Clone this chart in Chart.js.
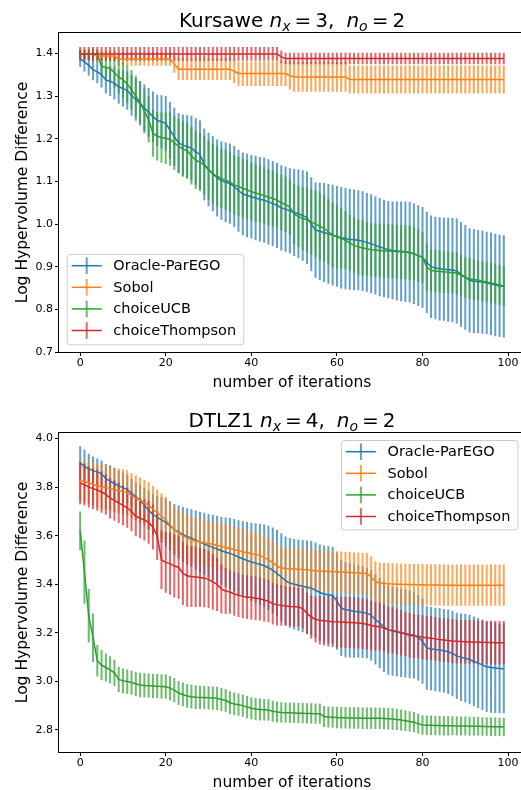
<!DOCTYPE html>
<html><head><meta charset="utf-8">
<script src="https://cdn.jsdelivr.net/npm/chart.js@4.4.1/dist/chart.umd.min.js"></script>
<style>
html,body{margin:0;padding:0;background:#fff;overflow:hidden;width:521px;height:790px;position:relative;}
.wrap{position:absolute;left:0;width:530px;height:395px;}
canvas{display:block;}
</style></head><body>
<div class="wrap" style="top:0"><canvas id="c1" width="530" height="395"></canvas></div>
<div class="wrap" style="top:395px"><canvas id="c2" width="530" height="395"></canvas></div>
<script>
const seriesNames = ['Oracle-ParEGO','Sobol','choiceUCB','choiceThompson'];
const iterations = [0,1,2,3,4,5,6,7,8,9,10,11,12,13,14,15,16,17,18,19,20,21,22,23,24,25,26,27,28,29,30,31,32,33,34,35,36,37,38,39,40,41,42,43,44,45,46,47,48,49,50,51,52,53,54,55,56,57,58,59,60,61,62,63,64,65,66,67,68,69,70,71,72,73,74,75,76,77,78,79,80,81,82,83,84,85,86,87,88,89,90,91,92,93,94,95,96,97,98,99];
const xTicks = [0,20,40,60,80,100];
const kurYTicks = [0.7,0.8,0.9,1.0,1.1,1.2,1.3,1.4];
const dtlzYTicks = [2.8,3.0,3.2,3.4,3.6,3.8,4.0];

// ---- Kursawe ----
const kurOracleMean = [1.388,1.380,1.372,1.362,1.357,1.350,1.338,1.335,1.330,1.322,
1.318,1.313,1.302,1.292,1.283,1.272,1.262,1.252,1.243,1.240,
1.236,1.220,1.205,1.190,1.185,1.182,1.178,1.170,1.163,1.140,
1.128,1.118,1.108,1.102,1.098,1.095,1.088,1.078,1.071,1.067,
1.064,1.061,1.058,1.056,1.052,1.048,1.044,1.038,1.035,1.031,
1.027,1.024,1.020,1.015,1.000,0.986,0.983,0.980,0.977,0.974,
0.971,0.968,0.966,0.964,0.963,0.962,0.960,0.957,0.954,0.950,
0.946,0.943,0.940,0.938,0.937,0.936,0.935,0.934,0.930,0.926,
0.922,0.910,0.900,0.897,0.895,0.894,0.893,0.892,0.890,0.882,
0.875,0.868,0.866,0.865,0.864,0.862,0.860,0.857,0.855,0.854];
const kurOracleErr = [0.020,0.022,0.024,0.025,0.027,0.030,0.032,0.035,0.038,0.040,
0.043,0.045,0.048,0.050,0.052,0.055,0.057,0.059,0.060,0.062,
0.064,0.066,0.068,0.070,0.072,0.074,0.076,0.078,0.080,0.084,
0.086,0.088,0.090,0.092,0.093,0.094,0.095,0.096,0.097,0.098,
0.098,0.099,0.099,0.100,0.100,0.100,0.100,0.100,0.100,0.100,
0.102,0.104,0.106,0.108,0.110,0.112,0.114,0.116,0.117,0.118,
0.118,0.119,0.119,0.118,0.118,0.117,0.117,0.116,0.116,0.115,
0.115,0.114,0.114,0.115,0.116,0.117,0.118,0.118,0.118,0.118,
0.118,0.119,0.120,0.120,0.121,0.121,0.122,0.122,0.123,0.123,
0.123,0.122,0.122,0.121,0.121,0.120,0.120,0.120,0.120,0.120];
const kurSobolMean = [1.398,1.398,1.398,1.398,1.394,1.394,1.394,1.394,1.394,1.387,
1.387,1.387,1.387,1.387,1.387,1.387,1.387,1.387,1.387,1.387,
1.387,1.387,1.375,1.363,1.363,1.363,1.363,1.363,1.363,1.363,
1.363,1.363,1.363,1.363,1.363,1.363,1.358,1.353,1.353,1.353,
1.353,1.353,1.353,1.353,1.353,1.353,1.353,1.353,1.353,1.348,
1.345,1.345,1.345,1.345,1.345,1.345,1.345,1.345,1.345,1.345,
1.345,1.345,1.345,1.339,1.339,1.339,1.339,1.339,1.339,1.339,
1.339,1.339,1.339,1.339,1.339,1.339,1.339,1.339,1.339,1.339,
1.339,1.339,1.339,1.339,1.339,1.339,1.339,1.339,1.339,1.339,
1.339,1.339,1.339,1.339,1.339,1.339,1.339,1.339,1.339,1.339];
const kurSobolErr = [0.012,0.012,0.012,0.012,0.012,0.012,0.012,0.012,0.012,0.016,
0.016,0.016,0.016,0.016,0.016,0.016,0.016,0.016,0.016,0.016,
0.016,0.016,0.020,0.025,0.025,0.025,0.025,0.025,0.025,0.025,
0.025,0.025,0.025,0.025,0.025,0.025,0.027,0.029,0.029,0.029,
0.029,0.029,0.029,0.029,0.029,0.029,0.029,0.029,0.029,0.033,
0.035,0.035,0.035,0.035,0.035,0.035,0.035,0.035,0.035,0.035,
0.035,0.035,0.035,0.033,0.033,0.033,0.033,0.033,0.033,0.033,
0.033,0.033,0.033,0.033,0.033,0.033,0.033,0.033,0.033,0.033,
0.033,0.033,0.033,0.033,0.033,0.033,0.033,0.033,0.033,0.033,
0.033,0.033,0.033,0.033,0.033,0.033,0.033,0.033,0.033,0.033];
const kurUCBMean = [1.398,1.398,1.398,1.398,1.398,1.370,1.367,1.365,1.355,1.345,
1.338,1.328,1.315,1.300,1.285,1.265,1.245,1.213,1.206,1.203,
1.201,1.199,1.190,1.183,1.176,1.172,1.160,1.150,1.145,1.138,
1.127,1.118,1.112,1.107,1.103,1.098,1.092,1.088,1.084,1.080,
1.076,1.073,1.070,1.067,1.063,1.060,1.056,1.050,1.046,1.040,
1.023,1.018,1.013,1.010,1.005,1.000,0.995,0.990,0.982,0.974,
0.970,0.966,0.962,0.956,0.950,0.946,0.944,0.942,0.940,0.939,
0.938,0.937,0.937,0.936,0.935,0.935,0.934,0.933,0.930,0.926,
0.922,0.900,0.891,0.890,0.889,0.888,0.887,0.886,0.885,0.880,
0.875,0.872,0.870,0.868,0.866,0.864,0.862,0.860,0.857,0.855];
const kurUCBErr = [0.010,0.010,0.010,0.010,0.012,0.020,0.025,0.030,0.035,0.040,
0.042,0.045,0.046,0.048,0.050,0.052,0.054,0.055,0.057,0.059,
0.060,0.062,0.063,0.064,0.065,0.066,0.067,0.068,0.068,0.069,
0.069,0.070,0.070,0.070,0.070,0.070,0.070,0.070,0.069,0.069,
0.068,0.068,0.067,0.067,0.066,0.066,0.065,0.065,0.065,0.065,
0.070,0.072,0.074,0.076,0.077,0.078,0.078,0.078,0.077,0.076,
0.075,0.070,0.068,0.066,0.065,0.064,0.064,0.063,0.063,0.063,
0.063,0.063,0.063,0.063,0.063,0.063,0.063,0.063,0.063,0.062,
0.060,0.055,0.050,0.050,0.050,0.049,0.049,0.049,0.049,0.048,
0.048,0.048,0.048,0.047,0.047,0.047,0.047,0.047,0.047,0.047];
const kurThompsonMean = [1.399,1.399,1.399,1.399,1.399,1.399,1.399,1.399,1.399,1.399,
1.399,1.399,1.399,1.399,1.399,1.399,1.399,1.399,1.399,1.399,
1.399,1.399,1.399,1.399,1.399,1.399,1.399,1.399,1.399,1.399,
1.399,1.399,1.399,1.399,1.399,1.399,1.399,1.399,1.399,1.399,
1.399,1.399,1.399,1.399,1.399,1.399,1.399,1.392,1.388,1.388,
1.388,1.388,1.388,1.388,1.388,1.388,1.388,1.388,1.388,1.388,
1.388,1.388,1.388,1.388,1.388,1.388,1.388,1.388,1.388,1.388,
1.388,1.388,1.388,1.388,1.388,1.388,1.388,1.388,1.388,1.388,
1.388,1.388,1.388,1.388,1.388,1.388,1.388,1.388,1.388,1.388,
1.388,1.388,1.388,1.388,1.388,1.388,1.388,1.388,1.388,1.388];
const kurThompsonErr = [0.016,0.016,0.016,0.016,0.016,0.016,0.016,0.016,0.016,0.016,
0.016,0.016,0.016,0.016,0.016,0.016,0.016,0.016,0.016,0.016,
0.016,0.016,0.016,0.016,0.016,0.016,0.016,0.016,0.016,0.016,
0.016,0.016,0.016,0.016,0.016,0.016,0.016,0.016,0.016,0.016,
0.016,0.016,0.016,0.016,0.016,0.016,0.016,0.015,0.0135,0.0135,
0.0135,0.0135,0.0135,0.0135,0.0135,0.0135,0.0135,0.0135,0.0135,0.0135,
0.0135,0.0135,0.0135,0.0135,0.0135,0.0135,0.0135,0.0135,0.0135,0.0135,
0.0135,0.0135,0.0135,0.0135,0.0135,0.0135,0.0135,0.0135,0.0135,0.0135,
0.0135,0.0135,0.0135,0.0135,0.0135,0.0135,0.0135,0.0135,0.0135,0.0135,
0.0135,0.0135,0.0135,0.0135,0.0135,0.0135,0.0135,0.0135,0.0135,0.0135];

// ---- DTLZ1 ----
const dtlzOracleMean = [3.900,3.885,3.875,3.868,3.862,3.856,3.835,3.825,3.815,3.805,
3.798,3.790,3.775,3.760,3.745,3.725,3.705,3.688,3.675,3.665,
3.655,3.640,3.625,3.615,3.605,3.597,3.590,3.582,3.574,3.566,
3.558,3.552,3.545,3.538,3.532,3.527,3.520,3.512,3.505,3.498,
3.492,3.487,3.482,3.476,3.468,3.458,3.445,3.430,3.415,3.405,
3.400,3.396,3.392,3.388,3.384,3.376,3.366,3.360,3.357,3.354,
3.330,3.302,3.295,3.292,3.289,3.287,3.284,3.281,3.272,3.255,
3.240,3.225,3.212,3.207,3.203,3.200,3.197,3.193,3.190,3.180,
3.165,3.137,3.134,3.131,3.129,3.126,3.122,3.115,3.105,3.099,
3.095,3.090,3.082,3.075,3.068,3.060,3.057,3.055,3.053,3.052];
const dtlzOracleErr = [0.068,0.070,0.063,0.058,0.056,0.054,0.060,0.065,0.065,0.065,
0.062,0.060,0.060,0.060,0.065,0.072,0.080,0.085,0.090,0.094,
0.098,0.102,0.106,0.110,0.113,0.116,0.119,0.122,0.125,0.128,
0.131,0.134,0.137,0.140,0.143,0.146,0.149,0.152,0.155,0.158,
0.161,0.164,0.167,0.170,0.173,0.176,0.178,0.180,0.182,0.184,
0.186,0.188,0.190,0.192,0.194,0.196,0.198,0.200,0.200,0.200,
0.200,0.198,0.196,0.194,0.192,0.190,0.188,0.186,0.186,0.186,
0.186,0.186,0.185,0.184,0.183,0.182,0.181,0.180,0.178,0.176,
0.175,0.172,0.172,0.172,0.172,0.172,0.174,0.176,0.178,0.180,
0.182,0.184,0.185,0.186,0.186,0.186,0.186,0.185,0.184,0.183];
const dtlzSobolMean = [3.828,3.822,3.818,3.812,3.806,3.802,3.798,3.794,3.788,3.785,
3.782,3.778,3.765,3.755,3.746,3.735,3.725,3.710,3.695,3.680,
3.665,3.645,3.625,3.612,3.600,3.590,3.582,3.578,3.574,3.570,
3.568,3.565,3.560,3.556,3.552,3.547,3.543,3.538,3.534,3.530,
3.526,3.523,3.520,3.510,3.500,3.490,3.475,3.468,3.465,3.464,
3.463,3.462,3.461,3.460,3.458,3.456,3.455,3.454,3.453,3.452,
3.451,3.450,3.449,3.448,3.447,3.446,3.445,3.444,3.430,3.410,
3.405,3.403,3.402,3.401,3.400,3.400,3.399,3.399,3.398,3.398,
3.398,3.397,3.397,3.397,3.397,3.396,3.396,3.396,3.396,3.396,
3.396,3.396,3.396,3.396,3.396,3.396,3.396,3.396,3.396,3.396];
const dtlzSobolErr = [0.085,0.086,0.087,0.088,0.089,0.090,0.090,0.091,0.091,0.092,
0.092,0.093,0.093,0.094,0.094,0.095,0.095,0.095,0.095,0.095,
0.095,0.096,0.096,0.096,0.096,0.096,0.096,0.096,0.096,0.096,
0.096,0.096,0.096,0.096,0.095,0.095,0.095,0.095,0.094,0.094,
0.093,0.093,0.092,0.091,0.090,0.089,0.088,0.087,0.086,0.085,
0.085,0.085,0.085,0.085,0.085,0.085,0.085,0.085,0.085,0.085,
0.085,0.085,0.085,0.085,0.085,0.085,0.085,0.085,0.085,0.085,
0.085,0.085,0.085,0.085,0.085,0.085,0.085,0.085,0.085,0.085,
0.085,0.085,0.085,0.085,0.085,0.085,0.085,0.085,0.085,0.085,
0.085,0.085,0.085,0.085,0.085,0.085,0.085,0.085,0.085,0.085];
const dtlzUCBMean = [3.620,3.450,3.270,3.180,3.085,3.067,3.057,3.047,3.035,3.008,
3.002,2.999,2.995,2.990,2.985,2.983,2.982,2.981,2.980,2.979,
2.978,2.972,2.964,2.952,2.946,2.940,2.937,2.935,2.934,2.933,
2.932,2.931,2.930,2.925,2.922,2.912,2.907,2.904,2.900,2.894,
2.889,2.886,2.884,2.883,2.882,2.877,2.874,2.872,2.871,2.871,
2.870,2.869,2.869,2.868,2.868,2.867,2.867,2.855,2.853,2.852,
2.851,2.850,2.850,2.849,2.849,2.849,2.848,2.848,2.848,2.848,
2.848,2.847,2.846,2.845,2.843,2.841,2.838,2.835,2.832,2.826,
2.820,2.819,2.819,2.818,2.818,2.817,2.817,2.817,2.816,2.816,
2.816,2.815,2.815,2.815,2.814,2.814,2.813,2.813,2.813,2.812];
const dtlzUCBErr = [0.080,0.130,0.110,0.100,0.065,0.062,0.058,0.056,0.054,0.052,
0.051,0.051,0.050,0.050,0.050,0.050,0.050,0.050,0.050,0.050,
0.050,0.050,0.050,0.049,0.049,0.049,0.049,0.049,0.048,0.048,
0.048,0.048,0.048,0.048,0.047,0.047,0.047,0.046,0.046,0.046,
0.045,0.045,0.045,0.044,0.044,0.043,0.043,0.042,0.042,0.042,
0.042,0.042,0.042,0.042,0.042,0.042,0.042,0.043,0.043,0.043,
0.044,0.044,0.044,0.044,0.044,0.044,0.044,0.044,0.044,0.044,
0.044,0.044,0.044,0.044,0.043,0.043,0.043,0.042,0.042,0.041,
0.040,0.040,0.040,0.040,0.040,0.040,0.040,0.039,0.039,0.039,
0.039,0.039,0.039,0.038,0.038,0.038,0.038,0.038,0.038,0.038];
const dtlzThompsonMean = [3.816,3.810,3.800,3.794,3.788,3.780,3.770,3.755,3.745,3.735,
3.725,3.715,3.700,3.680,3.672,3.665,3.655,3.635,3.600,3.500,
3.490,3.485,3.475,3.470,3.445,3.435,3.432,3.430,3.428,3.425,
3.420,3.410,3.400,3.380,3.372,3.368,3.360,3.355,3.350,3.347,
3.345,3.342,3.340,3.335,3.330,3.320,3.315,3.313,3.310,3.308,
3.307,3.306,3.300,3.280,3.265,3.255,3.252,3.250,3.248,3.246,
3.245,3.244,3.243,3.242,3.241,3.240,3.238,3.235,3.230,3.227,
3.225,3.220,3.212,3.210,3.205,3.200,3.195,3.190,3.187,3.185,
3.182,3.180,3.178,3.175,3.172,3.170,3.168,3.166,3.165,3.164,
3.163,3.162,3.162,3.161,3.161,3.160,3.160,3.159,3.159,3.159];
const dtlzThompsonErr = [0.086,0.086,0.085,0.085,0.085,0.085,0.084,0.084,0.083,0.083,
0.082,0.082,0.082,0.082,0.083,0.085,0.088,0.092,0.100,0.120,
0.125,0.128,0.130,0.130,0.130,0.128,0.126,0.124,0.122,0.120,
0.118,0.115,0.110,0.100,0.095,0.090,0.090,0.090,0.090,0.090,
0.090,0.090,0.089,0.088,0.087,0.086,0.085,0.084,0.082,0.080,
0.080,0.080,0.082,0.085,0.090,0.095,0.100,0.102,0.104,0.105,
0.105,0.105,0.105,0.105,0.105,0.105,0.104,0.103,0.102,0.100,
0.098,0.097,0.096,0.095,0.094,0.093,0.092,0.092,0.091,0.090,
0.090,0.090,0.090,0.090,0.090,0.090,0.090,0.090,0.090,0.090,
0.090,0.090,0.090,0.090,0.090,0.090,0.090,0.090,0.090,0.090];

const COLORS = ['#1f77b4','#ff7f0e','#2ca02c','#d62728'];
const FONT = "'DejaVu Sans', 'Liberation Sans', sans-serif";

function rgba(hex, a){
  const n = parseInt(hex.slice(1),16);
  return 'rgba('+((n>>16)&255)+','+((n>>8)&255)+','+(n&255)+','+a+')';
}

function drawRich(ctx, segs, cx, baseline){
  let total = 0;
  segs.forEach(s=>{ ctx.font = s.font; s.w = s.t ? ctx.measureText(s.t).width : 0; total += s.w + (s.gap||0); });
  let x = cx - total/2;
  ctx.textAlign = 'left'; ctx.textBaseline = 'alphabetic';
  segs.forEach(s=>{ ctx.font = s.font; if (s.t) ctx.fillText(s.t, x, baseline + (s.dy||0)); x += s.w + (s.gap||0); });
}

function titleSegs(name, nx){
  const R = '20px ' + FONT, I = 'italic 20px ' + FONT, S = 'italic 14px ' + FONT;
  return [
    {t: name + ' ', font: R},
    {t: 'n', font: I},
    {t: 'x', font: S, dy: 4, gap: 4},
    {t: '=', font: R, gap: 4},
    {t: String(nx) + ',', font: R, gap: 12},
    {t: 'n', font: I},
    {t: 'o', font: S, dy: 4, gap: 4},
    {t: '=', font: R, gap: 4},
    {t: '2', font: R}
  ];
}

function makeDecor(cfg){
  return {
    id: 'decor',
    beforeDatasetsDraw(chart){
      const ctx = chart.ctx, xs = chart.scales.x, ys = chart.scales.y;
      ctx.save();
      ctx.lineWidth = 2; ctx.lineCap = 'butt';
      cfg.series.forEach(s=>{
        ctx.strokeStyle = rgba(s.color, 0.7);
        ctx.beginPath();
        s.mean.forEach((m, i)=>{
          const px = xs.getPixelForValue(iterations[i]);
          ctx.moveTo(px, ys.getPixelForValue(m + s.err[i]));
          ctx.lineTo(px, ys.getPixelForValue(m - s.err[i]));
        });
        ctx.stroke();
      });
      ctx.restore();
    },
    afterDraw(chart){
      const ctx = chart.ctx, a = chart.chartArea;
      ctx.save();
      // frame
      ctx.strokeStyle = '#000'; ctx.lineWidth = 1;
      ctx.strokeRect(Math.round(a.left) - 0.5, Math.round(a.top) - 0.5, Math.round(a.right - a.left) + 1, Math.round(a.bottom - a.top) + 1);
      ctx.fillStyle = '#000';
      // title
      drawRich(ctx, titleSegs(cfg.name, cfg.nx), (a.left + a.right)/2, cfg.titleBase);
      // x label
      ctx.font = '15.5px ' + FONT; ctx.textAlign = 'center'; ctx.textBaseline = 'alphabetic';
      ctx.fillText('number of iterations', (a.left + a.right)/2, cfg.xlabelBase);
      // y label
      ctx.save();
      ctx.translate(cfg.ylabelX, (a.top + a.bottom)/2);
      ctx.rotate(-Math.PI/2);
      ctx.textAlign = 'center'; ctx.textBaseline = 'middle';
      ctx.fillText('Log Hypervolume Difference', 0, 0);
      ctx.restore();
      // legend
      const L = cfg.legend;
      ctx.beginPath();
      ctx.roundRect(L.x + 0.5, L.y + 0.5, L.w, L.h, 3);
      ctx.fillStyle = 'rgba(255,255,255,0.8)'; ctx.fill();
      ctx.strokeStyle = '#cccccc'; ctx.lineWidth = 1; ctx.stroke();
      cfg.series.forEach((s, k)=>{
        const cy = L.y + 11.7 + k*21.6;
        ctx.strokeStyle = s.color; ctx.lineWidth = 1.5;
        ctx.beginPath(); ctx.moveTo(L.x + 5, cy); ctx.lineTo(L.x + 35, cy); ctx.stroke();
        ctx.strokeStyle = rgba(s.color, 0.7); ctx.lineWidth = 2;
        ctx.beginPath(); ctx.moveTo(L.x + 20, cy - 8.3); ctx.lineTo(L.x + 20, cy + 8.3); ctx.stroke();
        ctx.fillStyle = '#000'; ctx.font = '14.5px ' + FONT; ctx.textAlign = 'left'; ctx.textBaseline = 'middle';
        ctx.fillText(s.name, L.x + 46.6, cy + 0.5);
      });
      ctx.restore();
    }
  };
}

function makeChart(id, cfg){
  const datasets = cfg.series.map((s, k)=>({
    label: s.name,
    data: iterations.map((it, i)=>({x: it, y: s.mean[i]})),
    borderColor: s.color, backgroundColor: s.color,
    borderWidth: 1.5, pointRadius: 0, tension: 0, fill: false,
    order: 4 - k
  }));
  const tickFont = {family: FONT, size: 11};
  const gridOpt = {display: true, drawOnChartArea: false, drawTicks: true, tickLength: 4, color: '#000', tickColor: '#000', lineWidth: 1};
  return new Chart(document.getElementById(id), {
    type: 'line',
    data: {datasets},
    options: {
      responsive: false, animation: false, devicePixelRatio: 1,
      layout: {padding: {top: cfg.padTop, right: 5, left: 0, bottom: 0}},
      plugins: {legend: {display: false}, tooltip: {enabled: false}, title: {display: false}},
      scales: {
        x: {type: 'linear', min: -4.95, max: 103.95,
            afterBuildTicks: s=>{ s.ticks = xTicks.map(v=>({value: v})); },
            afterFit: s=>{ s.height = cfg.xHeight; },
            ticks: {font: tickFont, color: '#000', padding: 1, maxRotation: 0, autoSkip: false, callback: v=>String(v)},
            grid: gridOpt, border: {display: false}},
        y: {type: 'linear', min: cfg.yMin, max: cfg.yMax,
            afterBuildTicks: s=>{ s.ticks = cfg.yTicks.map(v=>({value: v})); },
            afterFit: s=>{ s.width = 59; },
            ticks: {font: tickFont, color: '#000', padding: 2, autoSkip: false, callback: v=>Number(v).toFixed(1)},
            grid: gridOpt, border: {display: false}}
      }
    },
    plugins: [makeDecor(cfg)]
  });
}

makeChart('c1', {
  name: 'Kursawe', nx: 3,
  padTop: 33, xHeight: 43, yMin: 0.7, yMax: 1.448, yTicks: kurYTicks,
  titleBase: 26.7, xlabelBase: 386.5, ylabelX: 23.3,
  legend: {x: 66.7, y: 254, w: 176.6, h: 90.3},
  series: [
    {name: seriesNames[0], color: COLORS[0], mean: kurOracleMean, err: kurOracleErr},
    {name: seriesNames[1], color: COLORS[1], mean: kurSobolMean, err: kurSobolErr},
    {name: seriesNames[2], color: COLORS[2], mean: kurUCBMean, err: kurUCBErr},
    {name: seriesNames[3], color: COLORS[3], mean: kurThompsonMean, err: kurThompsonErr}
  ]
});
makeChart('c2', {
  name: 'DTLZ1', nx: 4,
  padTop: 38, xHeight: 38, yMin: 2.709, yMax: 4.023, yTicks: dtlzYTicks,
  titleBase: 31.7, xlabelBase: 391.5, ylabelX: 23.3,
  legend: {x: 340.9, y: 45, w: 176.6, h: 89.3},
  series: [
    {name: seriesNames[0], color: COLORS[0], mean: dtlzOracleMean, err: dtlzOracleErr},
    {name: seriesNames[1], color: COLORS[1], mean: dtlzSobolMean, err: dtlzSobolErr},
    {name: seriesNames[2], color: COLORS[2], mean: dtlzUCBMean, err: dtlzUCBErr},
    {name: seriesNames[3], color: COLORS[3], mean: dtlzThompsonMean, err: dtlzThompsonErr}
  ]
});
</script>
</body></html>
